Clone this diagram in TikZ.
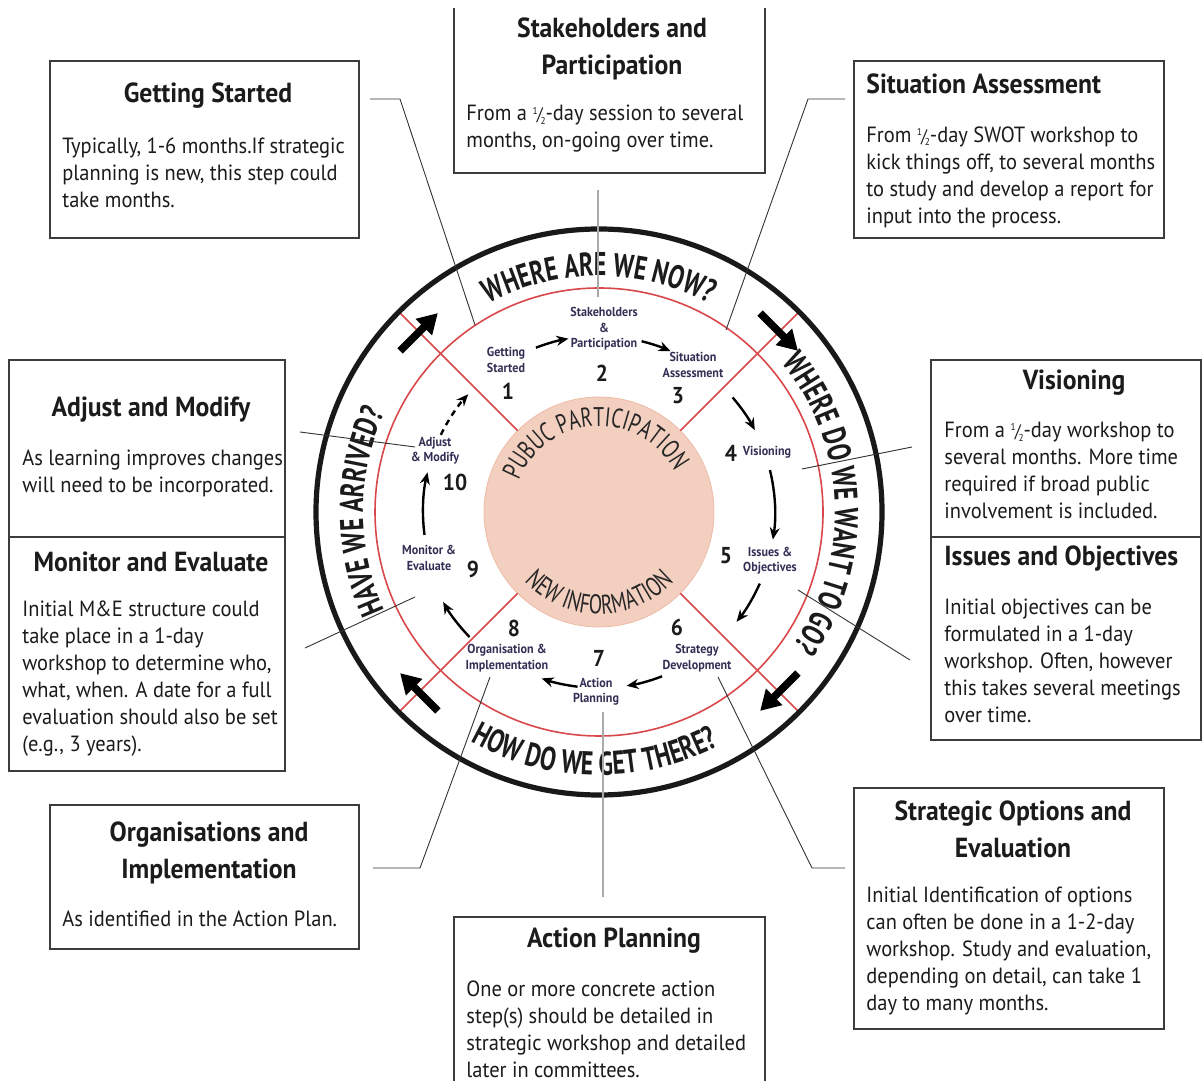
\documentclass[tikz,border=0pt]{standalone}
\usepackage{fontspec}
\setmainfont{PT Sans}[FakeStretch=0.93]
\newfontfamily\condfont{PT Sans}[FakeStretch=0.72]
\usetikzlibrary{arrows.meta,decorations.text,calc}
\definecolor{txt}{HTML}{1C1A1B}
\definecolor{lab}{HTML}{332F55}
\definecolor{pinkfill}{HTML}{F3CFC0}
\definecolor{pinkedge}{HTML}{EDBBA6}
\definecolor{redline}{HTML}{D8474A}
\definecolor{boxline}{HTML}{3C3C3C}
\definecolor{leadgray}{HTML}{AAAAAA}
\newcommand\halfday{\raisebox{0.62ex}{\fontsize{5}{5}\selectfont 1}\kern-0.04em{\fontsize{9}{9}\selectfont/}\kern-0.1em\raisebox{-0.3ex}{\fontsize{5}{5}\selectfont 2}}
\begin{document}
\begin{tikzpicture}[x=0.5pt,y=0.5pt,
  boxframe/.style={draw=boxline,line width=0.6pt},
  titletext/.style={font=\bfseries\fontsize{13.8}{18.5}\selectfont,text=txt,inner sep=0pt,align=center},
  bodytext/.style={font=\fontsize{11}{13.5}\selectfont,text=txt,inner sep=0pt,align=left,anchor=north west},
  steplabel/.style={font=\bfseries\fontsize{6.5}{7.7}\selectfont,text=lab,inner sep=0pt,align=center},
  stepnum/.style={font=\bfseries\fontsize{11.5}{12}\selectfont,text=txt,inner sep=0pt},
  leader/.style={draw=black!80,line width=0.45pt},
  grayleader/.style={draw=leadgray,line width=1pt},
  steparrow/.style={line width=1.2pt,-{Stealth[length=6pt,width=5pt]}},
  bigarrow/.style={line width=3.8pt,-{Triangle[length=10pt,width=11pt]}},
  redl/.style={draw=redline,line width=0.8pt},
  outertext/.style={decorate,decoration={text along path,text align=center,text color=txt,
     text={|\condfont\bfseries\fontsize{16.5}{18}\selectfont|#1}}},
  innertext/.style={decorate,decoration={text along path,text align=center,text color=black!85,
     text={|\condfont\fontsize{13.5}{14}\selectfont|#1}}},
]
\useasboundingbox (0,0) rectangle (1202,1081);
\coordinate (C) at (599,569);

% ---------- wheel ----------
\fill[pinkfill,draw=pinkedge,line width=0.4pt] (C) circle[radius=115];
\draw[redl] (C) circle[radius=224];
\foreach \a in {45,135,225,315}{
  \draw[redl] ($(C)+(\a:115)$) -- ($(C)+(\a:283)$);
}
\draw[line width=2.6pt,black!90] (C) circle[radius=283];

% big clockwise arrows
\draw[bigarrow] ($(C)+(141:256)$) -- ($(C)+(129:256)$);
\draw[bigarrow] ($(C)+(51:256)$) -- ($(C)+(39:256)$);
\draw[bigarrow] ($(C)+(-39:256)$) -- ($(C)+(-51:256)$);
\draw[bigarrow] ($(C)+(231:256)$) -- ($(C)+(219:256)$);

% curved texts
\path[outertext={WHERE ARE WE NOW?}] ($(C)+(160:236)$) arc[start angle=160,end angle=20,radius=236];
\path[outertext={WHERE DO WE WANT TO GO?}] ($(C)+(72.5:236)$) arc[start angle=72.5,end angle=-67.5,radius=236];
\path[outertext={HAVE WE ARRIVED?}] ($(C)+(250:236)$) arc[start angle=250,end angle=110,radius=236];
\path[outertext={HOW DO WE GET THERE?}] ($(C)+(-161:263)$) arc[start angle=-161,end angle=-21,radius=263];
\path[innertext={PUBUC PARTICIPATION}] ($(C)+(178.5:86)$) arc[start angle=178.5,end angle=8.5,radius=86];
\path[innertext={NEW INFORMATION}] ($(C)+(-170:102)$) arc[start angle=-170,end angle=-10,radius=102];

% step labels
\node[steplabel] (s1) at (506,721) {Getting\\Started};
\node[steplabel] (s2) at (604,752) {Stakeholders\\\&\\Participation};
\node[steplabel] (s3) at (693,716) {Situation\\Assessment};
\node[steplabel] (s4) at (767,629) {Visioning};
\node[steplabel] (s5) at (770,520) {Issues \&\\Objectives};
\node[steplabel] (s6) at (697,423) {Strategy\\Development};
\node[steplabel] (s7) at (596,389) {Action\\Planning};
\node[steplabel] (s8) at (507,423) {Organisation \&\\Implementation};
\node[steplabel] (s9) at (429,523) {Monitor \&\\Evaluate};
\node[steplabel] (s10) at (435,630) {Adjust\\\& Modify};
\node[stepnum] (n1) at (508,690) {1};
\node[stepnum] (n2) at (602,708) {2};
\node[stepnum] (n3) at (678,685) {3};
\node[stepnum] (n4) at (731,628) {4};
\node[stepnum] (n5) at (726,525) {5};
\node[stepnum] (n6) at (677,454) {6};
\node[stepnum] (n7) at (599,423) {7};
\node[stepnum] (n8) at (514,453) {8};
\node[stepnum] (n9) at (473,512) {9};
\node[stepnum] (n10) at (455,599) {10};

% step arrows
\coordinate (a1) at ($(C)+(111:176)$);
\coordinate (a2) at ($(C)+(76:176)$);
\coordinate (a3) at ($(C)+(40.6:176)$);
\coordinate (a4) at ($(C)+(13.8:176)$);
\coordinate (a5) at ($(C)+(-24:176)$);
\coordinate (a6) at ($(C)+(-69:176)$);
\coordinate (a7) at ($(C)+(-97:176)$);
\coordinate (a8) at ($(C)+(-136:180)$);
\coordinate (a9) at ($(C)+(-172.5:176)$);
\coordinate (a10) at ($(C)+(154:176)$);
\draw[steparrow] (a1) arc[start angle=111,end angle=100,radius=176];
\draw[steparrow] (a2) arc[start angle=76,end angle=66,radius=176];
\draw[steparrow] (a3) arc[start angle=40.6,end angle=27.7,radius=176];
\draw[steparrow] (a4) arc[start angle=13.8,end angle=-9,radius=176];
\draw[steparrow] (a5) arc[start angle=-24,end angle=-38.6,radius=176];
\draw[steparrow] (a6) arc[start angle=-69,end angle=-81,radius=176];
\draw[steparrow] (a7) arc[start angle=-97,end angle=-109,radius=176];
\draw[steparrow] (a8) arc[start angle=-136,end angle=-150,radius=180];
\draw[steparrow] (a9) arc[start angle=-172.5,end angle=-193,radius=176];
\draw[steparrow,dash pattern=on 3pt off 2.5pt] (a10) arc[start angle=154,end angle=138,radius=176];

% ---------- boxes ----------
\draw[boxframe] (50,843) rectangle (359,1020);
\draw[boxframe] (454,1073) -- (454,908) -- (765,908) -- (765,1073);
\draw[boxframe] (854,843) rectangle (1164,1020);
\draw[boxframe] (9,544) rectangle (285,721);
\draw[boxframe] (9,310) rectangle (285,544);
\draw[boxframe] (931,544) rectangle (1201,721);
\draw[boxframe] (931,341) rectangle (1201,544);
\draw[boxframe] (50,132) rectangle (359,276);
\draw[boxframe] (454,0) -- (454,164) -- (765,164) -- (765,0);
\draw[boxframe] (854,52) rectangle (1164,293);

% titles
\node[titletext] (gst) at (208,985) {Getting Started};
\node[titletext] (spt) at (612,1032) {Stakeholders and\\Participation};
\node[titletext,anchor=west] (sat) at (866,997) {Situation Assessment};
\node[titletext] (amt) at (151,671) {Adjust and Modify};
\node[titletext] (met) at (151,519) {Monitor and Evaluate};
\node[titletext] (vit) at (1074,698) {Visioning};
\node[titletext,anchor=west] (iot) at (944,522) {Issues and Objectives};
\node[titletext] (oit) at (209,228.5) {Organisations and\\Implementation};
\node[titletext] (apt) at (614,140) {Action Planning};
\node[titletext] (sot) at (1013,252) {Strategic Options and\\Evaluation};

% bodies
\node[bodytext] (gsb) at (62,944) {Typically, 1-6 months.If strategic\\planning is new, this step could\\take months.};
\node[bodytext] (spb) at (466,976) {From a \halfday-day session to several\\months, on-going over time.};
\node[bodytext] (sab) at (866,955) {From \halfday-day SWOT workshop to\\kick things off, to several months\\to study and develop a report for\\input into the process.};
\node[bodytext] (amb) at (22,632) {As learning improves changes\\will need to be incorporated.};
\node[bodytext] (meb) at (22,481) {Initial M\&E structure could\\take place in a 1-day\\workshop to determine who,\\what, when. A date for a full\\evaluation should also be set\\(e.g., 3 years).};
\node[bodytext] (vib) at (944,659) {From a \halfday-day workshop to\\several months. More time\\required if broad public\\involvement is included.};
\node[bodytext] (iob) at (944,482) {Initial objectives can be\\formulated in a 1-day\\workshop. Often, however\\this takes several meetings\\over time.};
\node[bodytext] (oib) at (62,171) {As identified in the Action Plan.};
\node[bodytext] (apb) at (466,101) {One or more concrete action\\step(s) should be detailed in\\strategic workshop and detailed\\later in committees.};
\node[bodytext] (sob) at (866,194) {Initial Identification of options\\can often be done in a 1-2-day\\workshop. Study and evaluation,\\depending on detail, can take 1\\day to many months.};

% ---------- leader lines ----------
\coordinate (gsA) at (370,982); \coordinate (gsB) at (400,982); \coordinate (gsC) at (475,756);
\draw[leader] (gsA) -- (gsB) -- (gsC);
\coordinate (spA) at (598,891); \coordinate (spB) at (598,784);
\draw[grayleader] (spA) -- (spB);
\coordinate (saA) at (845,982); \coordinate (saB) at (808,982); \coordinate (saC) at (726,751);
\draw[leader] (saA) -- (saB) -- (saC);
\coordinate (amA) at (300,649); \coordinate (amB) at (415,634);
\draw[leader] (amA) -- (amB);
\coordinate (meA) at (305,433); \coordinate (meB) at (415,484);
\draw[leader] (meA) -- (meB);
\coordinate (viA) at (912,634); \coordinate (viB) at (802,612);
\draw[leader] (viA) -- (viB);
\coordinate (ioA) at (910,421); \coordinate (ioB) at (798,491);
\draw[leader] (ioA) -- (ioB);
\coordinate (soA) at (845,213); \coordinate (soB) at (812,213); \coordinate (soC) at (718,404);
\draw[leader] (soA) -- (soB) -- (soC);
\coordinate (oiA) at (373,213); \coordinate (oiB) at (420,213); \coordinate (oiC) at (490,404);
\draw[leader] (oiA) -- (oiB) -- (oiC);
\coordinate (apA) at (603,184); \coordinate (apB) at (603,369);
\draw[grayleader] (apA) -- (apB);
\end{tikzpicture}
\end{document}
